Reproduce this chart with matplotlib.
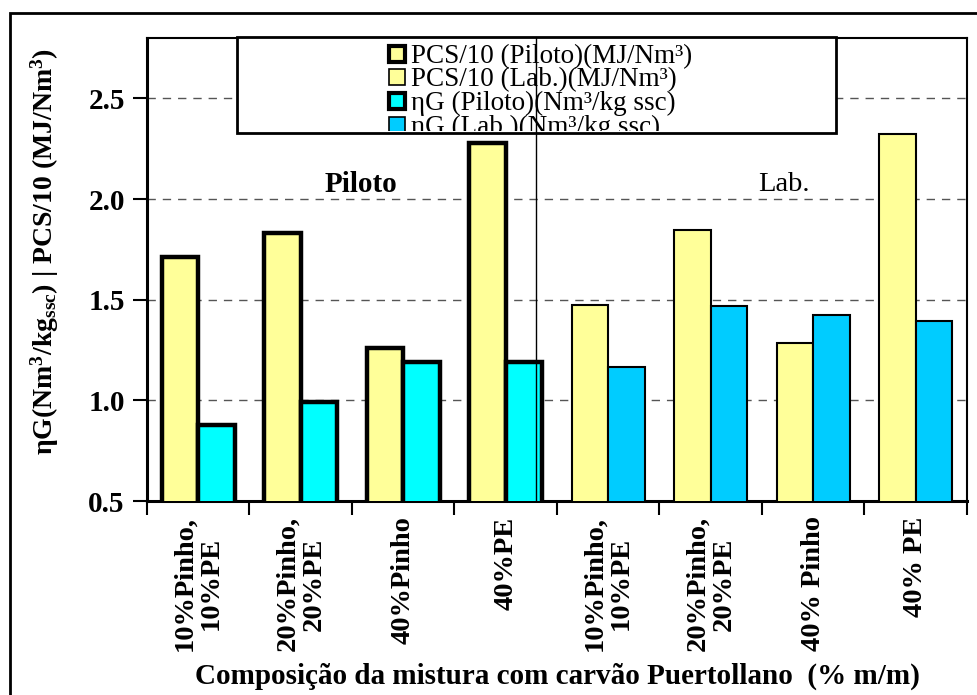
import numpy as np
import matplotlib
matplotlib.use("Agg")
import matplotlib.pyplot as plt
from matplotlib.patches import Rectangle
from matplotlib.transforms import Bbox, TransformedBbox

plt.rcParams['font.family'] = 'Liberation Serif'
plt.rcParams['mathtext.fontset'] = 'custom'
plt.rcParams['mathtext.rm'] = 'Liberation Serif'
plt.rcParams['mathtext.bf'] = 'Liberation Serif:bold'
plt.rcParams['mathtext.default'] = 'bf'

# Data
categories = ["10%Pinho,\n10%PE", "20%Pinho,\n20%PE", "40%Pinho", "40%PE",
              "10%Pinho,\n10%PE", "20%Pinho,\n20%PE", "40% Pinho", "40% PE"]
pcs_piloto = [1.71, 1.83, 1.26, 2.28]
eta_piloto = [0.88, 0.99, 1.19, 1.19]
pcs_lab = [1.475, 1.845, 1.285, 2.325]
eta_lab = [1.165, 1.47, 1.425, 1.395]

legend_labels = ["PCS/10 (Piloto)(MJ/Nm³)", "PCS/10 (Lab.)(MJ/Nm³)",
                 "ηG (Piloto)(Nm³/kg ssc)", "ηG (Lab.)(Nm³/kg ssc)"]

yellow = "#FFFF99"
cyan = "#00FFFF"
blue = "#00CCFF"

W, H = 978, 695
fig = plt.figure(figsize=(W / 100, H / 100), dpi=100)
ax = fig.add_axes([147 / W, 1 - 501 / H, (967 - 147) / W, (501 - 38) / H])

x_pil = np.arange(4)
x_lab = np.arange(4, 8)
bw = 0.355

ax.bar(x_pil - bw, pcs_piloto, bw, align='edge', color=yellow, edgecolor='black', lw=3.2, zorder=3)
ax.bar(x_pil, eta_piloto, bw, align='edge', color=cyan, edgecolor='black', lw=3.2, zorder=3)
ax.bar(x_lab - bw, pcs_lab, bw, align='edge', color=yellow, edgecolor='black', lw=1.5, zorder=3)
ax.bar(x_lab, eta_lab, bw, align='edge', color=blue, edgecolor='black', lw=1.5, zorder=3)

ax.set_xlim(-0.5, 7.5)
ax.set_ylim(0.5, 2.8)

ax.set_yticks([0.5, 1.0, 1.5, 2.0, 2.5])
ax.set_yticklabels(["%.1f" % v for v in [0.5, 1.0, 1.5, 2.0, 2.5]], fontsize=21, fontweight='bold')
ax.tick_params(axis='y', direction='out', length=10, width=1.5, pad=6)

ax.set_xticks(np.arange(-0.5, 8, 1))
ax.set_xticklabels([])
ax.tick_params(axis='x', which='major', direction='out', length=10, width=1.5)
ax.set_xticks(np.arange(8), minor=True)
ax.set_xticklabels(categories, minor=True, rotation=90, fontsize=20.5, fontweight='bold',
                   multialignment='center', linespacing=1.08)
ax.tick_params(axis='x', which='minor', length=0, pad=11)

ax.yaxis.grid(True, linestyle=(0, (6, 5)), color='#555555', lw=1)
ax.set_axisbelow(True)

for s in ['left', 'bottom']:
    ax.spines[s].set_linewidth(2.2)
for s in ['top', 'right']:
    ax.spines[s].set_linewidth(1.5)

ax.text(1.59, 2.07, "Piloto", fontsize=21, fontweight='bold', ha='center', va='center')
ax.text(5.71, 2.07, "Lab.", fontsize=20.5, ha='center', va='center')

# legend box drawn by hand, last row gets cut by its bottom edge
bx0, by0, bw_, bh = 237 / W, 1 - 133 / H, (836 - 237) / W, (133 - 37) / H
box = Rectangle((bx0, by0), bw_, bh, transform=fig.transFigure, facecolor='white',
                edgecolor='black', lw=2, clip_on=False, zorder=5)
ax.add_patch(box)
clip = TransformedBbox(Bbox.from_bounds(bx0, by0 + 2 / H, bw_, bh), fig.transFigure)
baselines = [63, 86, 110, 134]
hcolors = [yellow, yellow, cyan, blue]
hlw = [3, 1.2, 3, 1.2]
for yy, lab, c, lw in zip(baselines, legend_labels, hcolors, hlw):
    r = Rectangle((389 / W, 1 - (yy - 1) / H), 16 / W, 16 / H, transform=fig.transFigure,
                  facecolor=c, edgecolor='black', lw=lw, zorder=6)
    ax.add_patch(r)
    r.set_clip_box(clip)
    t = ax.text(411 / W, 1 - yy / H, lab, transform=fig.transFigure, fontsize=19.5,
                va='baseline', ha='left', zorder=6)
    t.set_clip_on(True)
    t.set_clip_box(clip)

ax.axvline(3.30, color='black', lw=1, zorder=7)

fig.text(45 / W, 1 - 252 / H, r"ηG(Nm$^{3}$/kg$_{ssc}$) | PCS/10 (MJ/Nm$^{3}$)",
         rotation=90, fontsize=20, fontweight='bold', ha='center', va='center')
fig.text(557 / W, 1 - 676 / H, "Composição da mistura com carvão Puertollano  (% m/m)",
         fontsize=21, fontweight='bold', ha='center', va='center')

# outer frame
fig.add_artist(Rectangle((10 / W, -0.1), 2, 1 - 13 / H + 0.1, transform=fig.transFigure,
                         fill=False, edgecolor='black', lw=2))

fig.savefig("out.png", dpi=100)
